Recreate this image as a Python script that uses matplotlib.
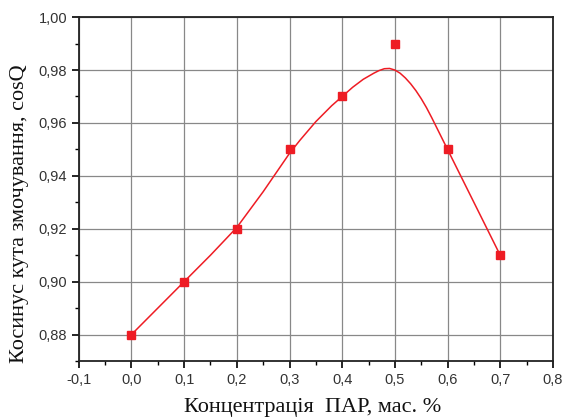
import matplotlib
matplotlib.use("Agg")
import matplotlib.pyplot as plt
from matplotlib.ticker import MultipleLocator, FuncFormatter

# measured points
conc = [0.0, 0.1, 0.2, 0.3, 0.4, 0.5, 0.6, 0.7]
cosq = [0.88, 0.90, 0.92, 0.95, 0.97, 0.99, 0.95, 0.91]

# smoothed curve
curve_x = [0.0, 0.05, 0.1, 0.15, 0.2, 0.25, 0.3, 0.32, 0.35, 0.38, 0.4, 0.42, 0.44,
           0.46, 0.47, 0.48, 0.49, 0.5, 0.51, 0.52, 0.53, 0.54, 0.55, 0.56, 0.57,
           0.58, 0.59, 0.6, 0.62, 0.65, 0.68, 0.7]
curve_y = [0.880, 0.890, 0.900, 0.9100, 0.9205, 0.934, 0.9485, 0.9535, 0.9605, 0.9665,
           0.970, 0.9735, 0.9765, 0.9788, 0.9798, 0.9805, 0.9806, 0.9800, 0.9788,
           0.9770, 0.9748, 0.9722, 0.9692, 0.9658, 0.9620, 0.9580, 0.9540, 0.950,
           0.942, 0.930, 0.918, 0.910]

xlabel = "Концентрація  ПАР, мас. %"
ylabel = "Косинус кута змочування, cosQ"

red = "#ee1c24"

fig = plt.figure(figsize=(5.63, 4.18), dpi=100)
ax = fig.add_axes([0.140, 0.1364, 0.842, 0.8226])

ax.plot(curve_x, curve_y, color=red, lw=1.1, zorder=3)
ax.plot(conc, cosq, ls="none", marker="s", ms=5.5, color=red, mec=red, zorder=4)

ax.set_xlim(-0.1, 0.8)
ax.set_ylim(0.87, 1.00)
ax.xaxis.set_major_locator(MultipleLocator(0.1))
ax.xaxis.set_minor_locator(MultipleLocator(0.05))
ax.yaxis.set_major_locator(MultipleLocator(0.02))
ax.yaxis.set_minor_locator(MultipleLocator(0.01))

fmt_x = FuncFormatter(lambda v, p: f"{v:.1f}".replace(".", ",").replace("-0,0", "0,0"))
fmt_y = FuncFormatter(lambda v, p: f"{v:.2f}".replace(".", ","))
ax.xaxis.set_major_formatter(fmt_x)
ax.yaxis.set_major_formatter(fmt_y)

ax.grid(True, which="major", color="#888888", lw=0.9)
ax.set_axisbelow(True)

ax.tick_params(which="both", direction="out", top=False, right=False,
               colors="black", labelsize=10.5)
ax.tick_params(which="major", length=5, width=1.2)
ax.tick_params(which="minor", length=3, width=1.0)
for lab in ax.get_xticklabels() + ax.get_yticklabels():
    lab.set_fontfamily("Liberation Sans")
    lab.set_color("#333333")

for s in ax.spines.values():
    s.set_linewidth(1.3)
    s.set_color("#222222")

fig.text(313 / 563, 1 - 412 / 418, xlabel, fontfamily="Liberation Serif",
         fontsize=16, ha="center", va="baseline", color="#111111")
fig.text(20 / 563, 1 - 213.5 / 418, ylabel, fontfamily="Liberation Serif",
         fontsize=16, ha="center", va="center", rotation=90, color="#111111")

fig.savefig("out.png", dpi=100)
